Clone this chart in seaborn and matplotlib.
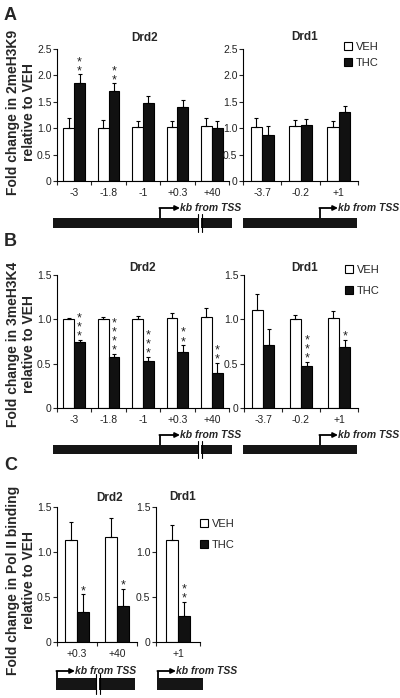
import numpy as np
import pandas as pd
import matplotlib
matplotlib.use('Agg')
import matplotlib.pyplot as plt
from matplotlib.patches import Rectangle, Patch
import seaborn as sns

# ---- data ----
groups = ['VEH', 'THC']

# A: 2meH3K9
a_drd2_sites = ['-3', '-1.8', '-1', '+0.3', '+40']
a_drd2_veh = [1.01, 1.01, 1.02, 1.03, 1.05]
a_drd2_veh_err = [0.19, 0.14, 0.12, 0.11, 0.14]
a_drd2_thc = [1.86, 1.71, 1.48, 1.41, 1.00]
a_drd2_thc_err = [0.16, 0.14, 0.13, 0.12, 0.13]
a_drd2_stars = ['**', '**', '', '', '']

a_drd1_sites = ['-3.7', '-0.2', '+1']
a_drd1_veh = [1.03, 1.04, 1.02]
a_drd1_veh_err = [0.17, 0.12, 0.11]
a_drd1_thc = [0.88, 1.06, 1.31]
a_drd1_thc_err = [0.17, 0.12, 0.11]
a_drd1_stars = ['', '', '']

# B: 3meH3K4
b_drd2_sites = ['-3', '-1.8', '-1', '+0.3', '+40']
b_drd2_veh = [1.00, 1.00, 1.00, 1.01, 1.03]
b_drd2_veh_err = [0.02, 0.03, 0.04, 0.06, 0.10]
b_drd2_thc = [0.75, 0.58, 0.53, 0.63, 0.40]
b_drd2_thc_err = [0.02, 0.03, 0.05, 0.08, 0.11]
b_drd2_stars = ['***', '****', '***', '**', '**']

b_drd1_sites = ['-3.7', '-0.2', '+1']
b_drd1_veh = [1.11, 1.00, 1.01]
b_drd1_veh_err = [0.18, 0.05, 0.08]
b_drd1_thc = [0.71, 0.47, 0.69]
b_drd1_thc_err = [0.18, 0.05, 0.08]
b_drd1_stars = ['', '***', '*']

# C: Pol II binding
c_drd2_sites = ['+0.3', '+40']
c_drd2_veh = [1.13, 1.17]
c_drd2_veh_err = [0.20, 0.21]
c_drd2_thc = [0.33, 0.40]
c_drd2_thc_err = [0.20, 0.19]
c_drd2_stars = ['*', '*']

c_drd1_sites = ['+1']
c_drd1_veh = [1.13]
c_drd1_veh_err = [0.17]
c_drd1_thc = [0.29]
c_drd1_thc_err = [0.16]
c_drd1_stars = ['**']

sns.set_style('white')
plt.rcParams['font.family'] = ['Liberation Sans', 'DejaVu Sans']

W, H = 400, 698
fig = plt.figure(figsize=(W / 100, H / 100), dpi=100)

# overlay in pixel coords for letters, gene diagrams
ov = fig.add_axes([0, 0, 1, 1])
ov.set_xlim(0, W)
ov.set_ylim(H, 0)
ov.axis('off')


def px_axes(left, top, right, bottom):
    return fig.add_axes([left / W, 1 - bottom / H, (right - left) / W, (bottom - top) / H])


def bar_panel(ax, sites, veh, veh_err, thc, thc_err, stars, ymax, width):
    df = pd.DataFrame({
        'site': sites * 2,
        'group': ['VEH'] * len(sites) + ['THC'] * len(sites),
        'fold': veh + thc,
    })
    sns.barplot(data=df, x='site', y='fold', hue='group', order=sites, hue_order=groups,
                palette={'VEH': 'white', 'THC': '#111111'}, edgecolor='black',
                linewidth=0.8, width=width, errorbar=None, legend=False, ax=ax)
    for cont, vals, errs in zip(ax.containers, [veh, thc], [veh_err, thc_err]):
        xs = [p.get_x() + p.get_width() / 2 for p in cont.patches]
        ax.errorbar(xs, vals, yerr=[[0] * len(vals), errs], fmt='none', ecolor='black',
                    elinewidth=0.8, capsize=1.6, capthick=0.8)
    thc_x = [p.get_x() + p.get_width() / 2 for p in ax.containers[1].patches]
    for x, v, e, s in zip(thc_x, thc, thc_err, stars):
        if s:
            # stars stacked vertically, one text per bar
            ax.annotate('\n'.join(s), xy=(x, v + e), xytext=(0, 0), textcoords='offset points',
                        ha='center', va='baseline', fontsize=9, color='#222222',
                        linespacing=0.7)
    n = len(sites)
    ax.set_xlim(-0.5, n - 0.5)
    ax.set_ylim(0, ymax)
    ax.set_yticks(np.arange(0, ymax + 0.01, 0.5))
    ax.set_yticklabels(['0' if t == 0 else '%.1f' % t for t in np.arange(0, ymax + 0.01, 0.5)])
    ax.set_xticks(range(n))
    ax.set_xticks(np.arange(-0.5, n, 1.0), minor=True)
    ax.tick_params(axis='x', which='major', length=0, labelsize=7.5, labelcolor='#222222', pad=5)
    ax.tick_params(axis='x', which='minor', length=3, width=0.8, direction='out', bottom=True)
    ax.tick_params(axis='y', length=3, width=0.8, direction='out', left=True,
                   labelsize=7.5, labelcolor='#222222', pad=1)
    ax.set_xlabel('')
    ax.set_ylabel('')
    sns.despine(ax=ax)
    for sp in ['left', 'bottom']:
        ax.spines[sp].set_linewidth(0.8)
        ax.spines[sp].set_color('black')
    ax.patch.set_alpha(0)


def legend_at(x, y, spacing):
    handles = [Patch(facecolor='white', edgecolor='black', linewidth=0.8, label='VEH'),
               Patch(facecolor='#111111', edgecolor='black', linewidth=0.8, label='THC')]
    fig.legend(handles=handles, loc='upper left', bbox_to_anchor=(x / W, 1 - y / H),
               frameon=False, fontsize=8, handlelength=0.7, handleheight=0.7,
               handletextpad=0.4, labelspacing=spacing, borderpad=0, borderaxespad=0)


def gene_bar(x0, x1, y0, y1, tss, arrow_len, brk=None, rise=10):
    ov.add_patch(Rectangle((x0, y0), x1 - x0, y1 - y0, facecolor='#151515', edgecolor='none'))
    if brk is not None:
        ov.add_patch(Rectangle((brk, y0 - 1), 3, y1 - y0 + 2, facecolor='white', edgecolor='none'))
        ov.plot([brk - 0.5, brk - 0.5], [y0 - 4, y1 + 4], color='black', lw=0.8)
        ov.plot([brk + 3.5, brk + 3.5], [y0 - 4, y1 + 4], color='black', lw=0.8)
    ya = y0 - rise
    ov.plot([tss, tss], [y0, ya], color='black', lw=1.3, solid_capstyle='butt')
    ov.annotate('', xy=(tss + arrow_len, ya), xytext=(tss - 0.6, ya),
                arrowprops=dict(arrowstyle='-|>', lw=1.3, color='black', mutation_scale=7,
                                shrinkA=0, shrinkB=0))
    ov.text(tss + arrow_len, ya, 'kb from TSS', fontsize=7.5, fontweight='bold',
            fontstyle='italic', ha='left', va='center')


ylab_kw = dict(rotation=90, ha='center', va='center', fontsize=10, fontweight='bold',
               multialignment='center', linespacing=1.25)

# ---- panel A ----
ax = px_axes(57, 49, 229, 181)
bar_panel(ax, a_drd2_sites, a_drd2_veh, a_drd2_veh_err, a_drd2_thc, a_drd2_thc_err,
          a_drd2_stars, 2.5, 0.63)
ax = px_axes(243, 49, 358, 181)
bar_panel(ax, a_drd1_sites, a_drd1_veh, a_drd1_veh_err, a_drd1_thc, a_drd1_thc_err,
          a_drd1_stars, 2.5, 0.6)
fig.text(145 / W, 1 - 38 / H, 'Drd2', fontsize=8.5, fontweight='bold', ha='center', va='center')
fig.text(305 / W, 1 - 37 / H, 'Drd1', fontsize=8.5, fontweight='bold', ha='center', va='center')
fig.text(21 / W, 1 - 112 / H, 'Fold change in 2meH3K9\nrelative to VEH', **ylab_kw)
legend_at(344, 42, 0.55)
gene_bar(53, 232, 218, 228, 160, 20, brk=198)
gene_bar(243, 357, 218, 228, 320, 18)
ov.text(4, 16, 'A', fontsize=13, fontweight='bold', ha='left', va='center')

# ---- panel B ----
ax = px_axes(57, 275, 229, 408)
bar_panel(ax, b_drd2_sites, b_drd2_veh, b_drd2_veh_err, b_drd2_thc, b_drd2_thc_err,
          b_drd2_stars, 1.5, 0.63)
ax = px_axes(244, 275, 358, 408)
bar_panel(ax, b_drd1_sites, b_drd1_veh, b_drd1_veh_err, b_drd1_thc, b_drd1_thc_err,
          b_drd1_stars, 1.5, 0.6)
fig.text(143 / W, 1 - 268 / H, 'Drd2', fontsize=8.5, fontweight='bold', ha='center', va='center')
fig.text(305 / W, 1 - 268 / H, 'Drd1', fontsize=8.5, fontweight='bold', ha='center', va='center')
fig.text(21 / W, 1 - 344 / H, 'Fold change in 3meH3K4\nrelative to VEH', **ylab_kw)
legend_at(345, 265, 1.0)
gene_bar(53, 232, 445, 454, 160, 20, brk=198)
gene_bar(243, 357, 445, 454, 320, 18)
ov.text(4, 241, 'B', fontsize=13, fontweight='bold', ha='left', va='center')

# ---- panel C ----
ax = px_axes(57, 507, 137, 642)
bar_panel(ax, c_drd2_sites, c_drd2_veh, c_drd2_veh_err, c_drd2_thc, c_drd2_thc_err,
          c_drd2_stars, 1.5, 0.58)
ax = px_axes(156, 507, 200, 642)
bar_panel(ax, c_drd1_sites, c_drd1_veh, c_drd1_veh_err, c_drd1_thc, c_drd1_thc_err,
          c_drd1_stars, 1.5, 0.55)
fig.text(110 / W, 1 - 498 / H, 'Drd2', fontsize=8.5, fontweight='bold', ha='center', va='center')
fig.text(183 / W, 1 - 497 / H, 'Drd1', fontsize=8.5, fontweight='bold', ha='center', va='center')
fig.text(21 / W, 1 - 580 / H, 'Fold change in Pol II binding\nrelative to VEH', **ylab_kw)
legend_at(200, 519, 1.0)
gene_bar(56, 135, 678, 690, 57, 18, brk=96, rise=7)
gene_bar(157, 203, 678, 690, 158, 18, rise=7)
ov.text(4, 465, 'C', fontsize=13, fontweight='bold', ha='left', va='center')

fig.savefig('out.png', dpi=100)
